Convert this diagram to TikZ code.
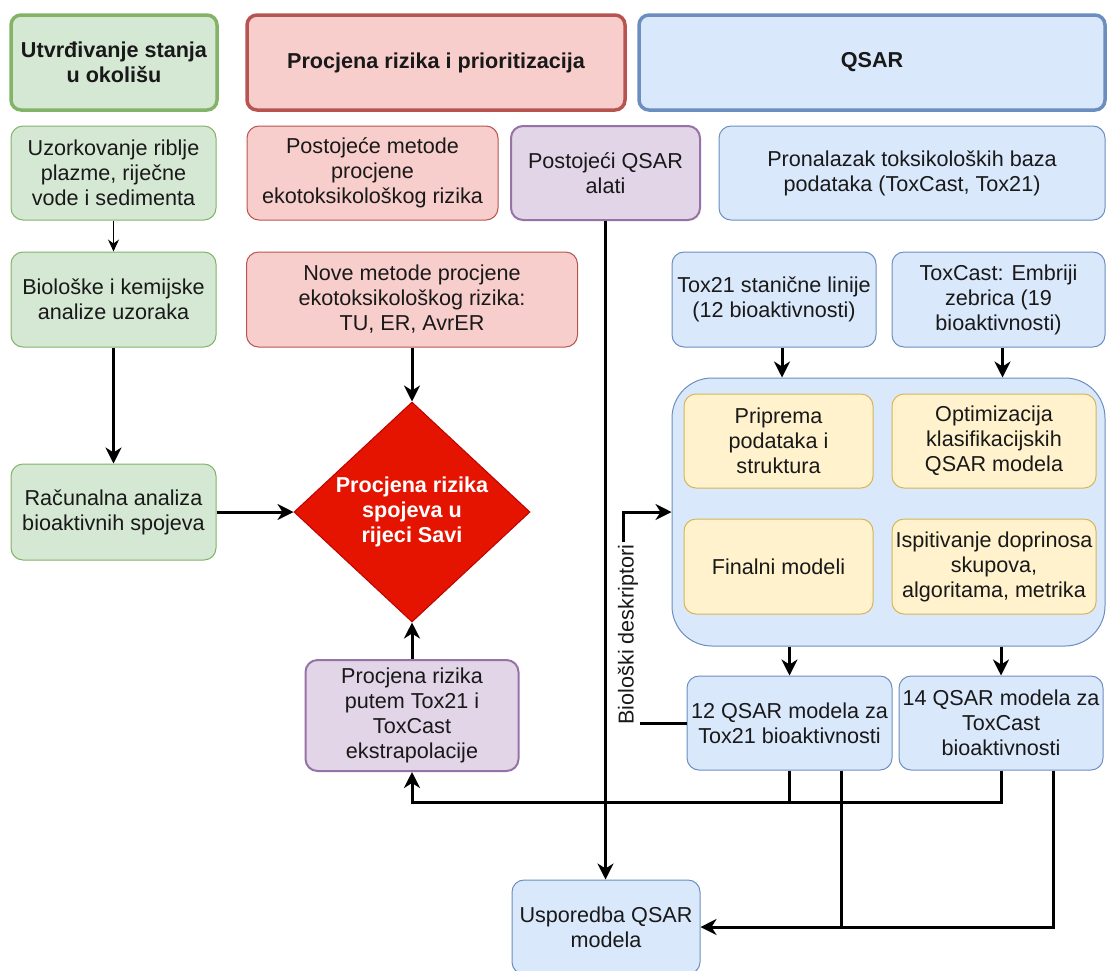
\documentclass[tikz,border=0pt]{standalone}
\usepackage{fontspec}
\setmainfont{Liberation Sans}
\definecolor{GreenFill}{HTML}{d5e8d4}
\definecolor{GreenLine}{HTML}{82b366}
\definecolor{RedFill}{HTML}{f8cecc}
\definecolor{RedLine}{HTML}{b85450}
\definecolor{BlueFill}{HTML}{dae8fc}
\definecolor{BlueLine}{HTML}{6c8ebf}
\definecolor{PurpleFill}{HTML}{e1d5e7}
\definecolor{PurpleLine}{HTML}{9673a6}
\definecolor{YellowFill}{HTML}{fff2cc}
\definecolor{YellowLine}{HTML}{d6b656}
\definecolor{Alarm}{HTML}{e51400}
\definecolor{AlarmLine}{HTML}{c00000}
\usetikzlibrary{arrows.meta,shapes.geometric}

\begin{document}
\begin{tikzpicture}
    [x=0.5pt, y=-0.5pt,
    every node/.style={align=center, inner sep=1pt, text=black!90, font=\fontsize{10.8}{12.5}\selectfont},
    box/.style={rectangle, rounded corners=6pt, line width=0.5pt},
    header/.style={box, rounded corners=5pt, line width=1.75pt, font=\fontsize{10.8}{12.5}\selectfont\bfseries},
    envbox/.style={box, fill=GreenFill, draw=GreenLine},
    riskbox/.style={box, fill=RedFill, draw=RedLine},
    qsarbox/.style={box, fill=BlueFill, draw=BlueLine},
    toolbox/.style={box, fill=PurpleFill, draw=PurpleLine, line width=1pt},
    modelbox/.style={box, fill=YellowFill, draw=YellowLine},
    flow/.style={line width=1.5pt, -{Stealth[length=8pt,width=8pt,inset=2.5pt]}},
    joinline/.style={line width=1.5pt}]

    \useasboundingbox (0,0) rectangle (1107,970);

    % headers
    \node[header, fill=GreenFill, draw=GreenLine, minimum width=103pt, minimum height=47.5pt] (hdrEnv) at (114,62.5) {Utvrđivanje stanja\\u okolišu};
    \node[header, fill=RedFill, draw=RedLine, minimum width=189pt, minimum height=47.5pt] (hdrRisk) at (436,62.5) {Procjena rizika i prioritizacija};
    \node[header, fill=BlueFill, draw=BlueLine, minimum width=233pt, minimum height=47.5pt] (hdrQsar) at (872,62.5) {QSAR};

    % second row
    \node[envbox, minimum width=102.5pt, minimum height=47pt] (sampling) at (113.5,173) {Uzorkovanje riblje\\plazme, riječne\\vode i sedimenta};
    \node[riskbox, minimum width=125.5pt, minimum height=47pt] (oldMethods) at (372.5,173) {Postojeće metode\\procjene\\ekotoksikološkog rizika};
    \node[toolbox, minimum width=94.5pt, minimum height=47pt] (qsarTools) at (605.5,173) {Postojeći QSAR\\alati};
    \node[qsarbox, minimum width=193pt, minimum height=47pt] (databases) at (912,173) {Pronalazak toksikoloških baza\\podataka (ToxCast, Tox21)};

    % third row
    \node[envbox, minimum width=102.5pt, minimum height=47.5pt] (analysis) at (113.5,299.5) {Biološke i kemijske\\analize uzoraka};
    \node[riskbox, minimum width=165.5pt, minimum height=47.5pt] (newMethods) at (412,299.5) {Nove metode procjene\\ekotoksikološkog rizika:\\TU, ER, AvrER};
    \node[qsarbox, minimum width=102pt, minimum height=47.5pt] (tox21) at (774,299.5) {Tox21 stanične linije\\(12 bioaktivnosti)};
    \node[qsarbox, minimum width=106.5pt, minimum height=47.5pt] (toxCast) at (998.5,299.5) {ToxCast: Embriji\\zebrica (19\\bioaktivnosti)};

    % modelling block
    \node[qsarbox, rounded corners=20pt, minimum width=216.5pt, minimum height=134pt] (workflow) at (888.5,512) {};
    \node[modelbox, minimum width=94.5pt, minimum height=47pt] (prep) at (778.5,441) {Priprema\\podataka i\\struktura};
    \node[modelbox, minimum width=102pt, minimum height=47pt] (optim) at (994,441) {Optimizacija\\klasifikacijskih\\QSAR modela};
    \node[modelbox, minimum width=94.5pt, minimum height=47.5pt] (final) at (778.5,566.5) {Finalni modeli};
    \node[modelbox, minimum width=102pt, minimum height=47.5pt] (contrib) at (994,566.5) {Ispitivanje doprinosa\\skupova,\\algoritama, metrika};

    % lower part
    \node[envbox, minimum width=102.5pt, minimum height=48pt] (compAnalysis) at (113.5,512) {Računalna analiza\\bioaktivnih spojeva};
    \node[diamond, fill=Alarm, draw=AlarmLine, line width=0.5pt, inner sep=0pt, aspect=1.07, minimum width=118pt, minimum height=110pt, text=white, font=\fontsize{10.8}{12.5}\selectfont\bfseries] (riskSava) at (412,512) {Procjena rizika\\spojeva u\\rijeci Savi};
    \node[toolbox, minimum width=106.5pt, minimum height=55.5pt] (riskTox) at (412,715.5) {Procjena rizika\\putem Tox21 i\\ToxCast\\ekstrapolacije};
    \node[qsarbox, minimum width=102.5pt, minimum height=47pt] (qsar12) at (789.5,723) {12 QSAR modela za\\Tox21 bioaktivnosti};
    \node[qsarbox, minimum width=102pt, minimum height=47pt] (qsar14) at (1001,723) {14 QSAR modela za\\ToxCast\\bioaktivnosti};
    \node[qsarbox, minimum width=94pt, minimum height=47pt] (compare) at (606,927) {Usporedba QSAR\\modela};

    % connectors
    \draw[line width=0.6pt, -{Stealth[length=6pt,width=5.5pt,inset=2pt]}] (sampling) -- (analysis);
    \draw[flow] (analysis) -- (compAnalysis);
    \draw[flow] (compAnalysis) -- (riskSava);
    \draw[flow] (newMethods) -- (riskSava);
    \draw[flow] (riskTox) -- (riskSava);
    \draw[flow] (qsarTools.south) -- (qsarTools.south |- compare.north);
    \draw[flow] ([xshift=4pt]tox21.south) -- ([xshift=4pt]tox21.south |- workflow.north);
    \draw[flow] ([xshift=2pt]toxCast.south) -- ([xshift=2pt]toxCast.south |- workflow.north);
    \draw[flow] (workflow.south -| qsar12) -- (qsar12);
    \draw[flow] (workflow.south -| qsar14) -- (qsar14);

    \coordinate (bioBend) at (623,723);
    \draw[flow] (qsar12.west) -- (bioBend) |- node[pos=0.21, xshift=2.5pt, rotate=90, fill=white] {Biološki deskriptori} (workflow.west);

    \draw[joinline] (qsar12.south) -- ++(0,32);
    \draw[flow] (qsar14.south) -- ++(0,32) -| (riskTox.south);
    \draw[joinline] ([xshift=26pt]qsar12.south) -- ([xshift=26pt]qsar12.south |- compare.east);
    \draw[flow] ([xshift=26pt]qsar14.south) |- (compare.east);
\end{tikzpicture}
\end{document}
